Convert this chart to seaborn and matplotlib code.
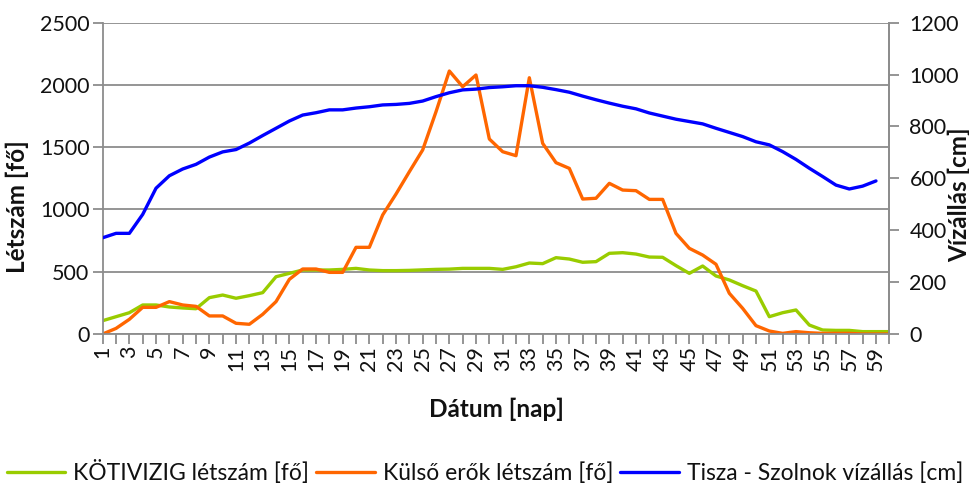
import matplotlib
matplotlib.use("Agg")
import matplotlib.pyplot as plt
import numpy as np
import pandas as pd
import seaborn as sns
from matplotlib.lines import Line2D

# ---- data ----
days = list(range(1, 61))
kotivizig = [107, 139, 171, 233, 233, 217, 209, 203, 292, 313,
             287, 308, 332, 460, 487, 514, 514, 514, 519, 527,
             514, 509, 509, 511, 515, 519, 521, 527, 527, 527,
             519, 540, 570, 565, 613, 602, 576, 581, 648, 653,
             642, 618, 616, 549, 487, 546, 466, 434, 388, 345,
             139, 171, 193, 72, 32, 29, 29, 19, 19, 19]
kulso = [0, 45, 118, 214, 214, 260, 233, 222, 145, 145,
         86, 78, 158, 260, 439, 522, 522, 495, 495, 696,
         696, 956, 1124, 1303, 1478, 1785, 2112, 1986, 2080, 1566,
         1464, 1432, 2058, 1531, 1376, 1330, 1084, 1090, 1210, 1156,
         1151, 1081, 1081, 808, 688, 634, 560, 327, 206, 67,
         24, 5, 19, 10, 5, 5, 5, 0, 0, 0]
tisza_days = list(range(1, 60))
tisza = [371, 388, 388, 461, 562, 610, 636, 654, 682, 702,
         711, 736, 765, 793, 821, 844, 853, 864, 864, 871,
         876, 883, 885, 889, 898, 915, 930, 941, 944, 950,
         953, 957, 957, 951, 942, 932, 917, 903, 890, 878,
         868, 852, 840, 828, 819, 810, 793, 777, 761, 741,
         729, 703, 673, 639, 607, 574, 559, 570, 590]
left_ticks = [0, 500, 1000, 1500, 2000, 2500]
right_ticks = [0, 200, 400, 600, 800, 1000, 1200]
x_tick_labels = [str(d) if d % 2 == 1 else "" for d in days]

names = ["KÖTIVIZIG létszám [fő]", "Külső erők létszám [fő]",
         "Tisza - Szolnok vízállás [cm]"]
colors = ["#99CC00", "#FF6600", "#0000FF"]

df_left = pd.DataFrame({"nap": days + days,
                        "value": kotivizig + kulso,
                        "series": [names[0]] * 60 + [names[1]] * 60})
df_right = pd.DataFrame({"nap": tisza_days, "value": tisza})

# ---- style ----
sns.set_theme(style="white")
plt.rcParams["font.family"] = ["Lato", "DejaVu Sans"]
grid_c = "#8C8C8C"
txt_c = "#111111"
fs = 15.5
lw = 2.4

fig = plt.figure(figsize=(9.7, 4.95), dpi=100)
ax = fig.add_axes([102.7 / 970, 1 - 334 / 495, 786.6 / 970, 311.3 / 495])

sns.lineplot(data=df_left, x="nap", y="value", hue="series",
             palette=colors[:2], hue_order=names[:2], ax=ax,
             linewidth=lw, legend=False)
ax2 = ax.twinx()
sns.lineplot(data=df_right, x="nap", y="value", color=colors[2], ax=ax2,
             linewidth=lw, legend=False)

ax.set_xlim(1, 60)
ax.set_ylim(0, 2500)
ax2.set_ylim(0, 1200)

ax.set_yticks(left_ticks)
ax.set_yticklabels([str(t) for t in left_ticks], fontsize=fs, color=txt_c)
ax2.set_yticks(right_ticks)
ax2.set_yticklabels([str(t) for t in right_ticks], fontsize=fs, color=txt_c)
ax.set_xticks(days)
ax.set_xticklabels(x_tick_labels, rotation=90, fontsize=fs, color=txt_c)

ax.yaxis.grid(True, color=grid_c, linewidth=1.3)
ax.xaxis.grid(False)
ax2.grid(False)
ax.set_axisbelow(True)

for a in (ax, ax2):
    for s in a.spines.values():
        s.set_color(grid_c)
        s.set_linewidth(1.3)
ax.spines["top"].set_visible(False)
ax2.spines["top"].set_visible(False)
ax2.spines["left"].set_visible(False)
ax2.spines["bottom"].set_visible(False)

ax.tick_params(axis="y", which="both", direction="out", length=7.5,
               width=1.3, color=grid_c, pad=2, left=True)
ax.tick_params(axis="x", which="both", direction="out", length=7.5,
               width=1.3, color=grid_c, pad=1, bottom=True)
ax2.tick_params(axis="y", which="both", direction="out", length=7.5,
                width=1.3, color=grid_c, pad=7, right=True)

lab_fs = 17.5
ax.set_xlabel("Dátum [nap]", fontsize=lab_fs, fontweight="bold", color=txt_c)
ax.xaxis.set_label_coords(0.501, -0.205)
ax.set_ylabel("Létszám [fő]", fontsize=lab_fs, fontweight="bold", color=txt_c)
ax.yaxis.set_label_coords(-0.094, 0.41)
ax2.set_ylabel("Vízállás [cm]", fontsize=lab_fs, fontweight="bold", color=txt_c,
               rotation=90)
ax2.yaxis.set_label_coords(1.0745, 0.447)

handles = [Line2D([0], [0], color=c, lw=lw) for c in colors]
fig.legend(handles, names, loc="center", ncol=3, frameon=False,
           bbox_to_anchor=(0.5, 1 - 472 / 495), fontsize=16.5,
           handlelength=2.55, handletextpad=0.35, columnspacing=0.3,
           labelcolor=txt_c)

fig.savefig("out.png", dpi=100)
